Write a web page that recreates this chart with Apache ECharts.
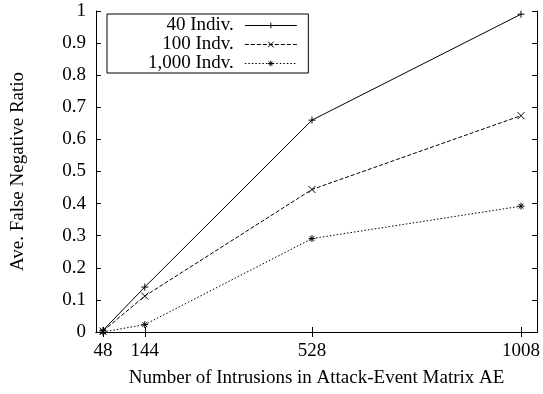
<!DOCTYPE html>
<html><head><meta charset="utf-8">
<script src="https://cdn.jsdelivr.net/npm/echarts@6/dist/echarts.min.js"></script>
<style>html,body{margin:0;padding:0;background:#fff}#c{width:543px;height:394px}</style>
</head><body><div id="c"></div>
<script>
const xTicks = [48, 144, 528, 1008];
const seriesNames = ['40 Indiv.', '100 Indv.', '1,000 Indv.'];
const s40 = [0.005, 0.14, 0.66, 0.99];
const s100 = [0.003, 0.112, 0.444, 0.674];
const s1000 = [0.0, 0.023, 0.291, 0.392];

const font = 'Liberation Serif';
const fs = 19;
const plus = 'path://M0,5L10,5M5,0L5,10';
const cross = 'path://M1,1L9,9M9,1L1,9';
const star = 'path://M0,5L10,5M5,0L5,10M1.5,1.5L8.5,8.5M8.5,1.5L1.5,8.5';

function mk(name, vals, type, sym) {
  return {
    name: name, type: 'line', data: xTicks.map((x, i) => [x, vals[i]]),
    symbol: sym, symbolSize: 7, color: '#000',
    lineStyle: {color: '#000', width: 1, type: type},
    itemStyle: {color: 'rgba(0,0,0,0)', borderColor: '#000', borderWidth: 1},
    emphasis: {disabled: true}, animation: false, z: 3
  };
}
const axisCommon = {
  axisLine: {show: true, lineStyle: {color: '#000', width: 1}},
  splitLine: {show: false}
};
const chart = echarts.init(document.getElementById('c'));
chart.setOption({
  animation: false,
  grid: {left: 96, right: 4, top: 11, bottom: 62},
  legend: {
    orient: 'vertical', left: 107, top: 14, align: 'right',
    data: seriesNames,
    backgroundColor: '#fff', borderColor: '#000', borderWidth: 1,
    padding: [2, 11, 0, 41], itemGap: 0, itemWidth: 52, itemHeight: 7,
    lineStyle: {width: 1},
    itemStyle: {color: 'rgba(0,0,0,0)', borderColor: '#000', borderWidth: 1},
    formatter: '{a|{name}}',
    textStyle: {fontFamily: font, fontSize: fs, color: '#000',
      rich: {a: {fontFamily: font, fontSize: fs, color: '#000', padding: [0, 6, 0, 0], lineHeight: 18.5}}},
    selectedMode: false
  },
  xAxis: [
    Object.assign({type: 'value', min: 32, max: 1045, position: 'bottom',
      axisTick: {show: true, inside: true, length: 5, customValues: xTicks, lineStyle: {color: '#000'}},
      axisLabel: {customValues: xTicks, formatter: v => String(v), fontFamily: font, fontSize: fs, color: '#000', margin: 10},
      name: 'Number of Intrusions in Attack-Event Matrix AE', nameLocation: 'middle', nameGap: 37,
      nameTextStyle: {fontFamily: font, fontSize: fs, color: '#000'}}, axisCommon),
    Object.assign({type: 'value', min: 32, max: 1045, position: 'top',
      axisTick: {show: true, inside: true, length: 5, customValues: xTicks, lineStyle: {color: '#000'}},
      axisLabel: {show: false}}, axisCommon)
  ],
  yAxis: [
    Object.assign({type: 'value', min: 0, max: 1, interval: 0.1, position: 'left',
      axisTick: {show: true, inside: true, length: 5, lineStyle: {color: '#000'}},
      axisLabel: {fontFamily: font, fontSize: fs, color: '#000', margin: 10},
      name: 'Ave. False Negative Ratio', nameLocation: 'middle', nameGap: 68,
      nameTextStyle: {fontFamily: font, fontSize: fs, color: '#000'}}, axisCommon),
    Object.assign({type: 'value', min: 0, max: 1, interval: 0.1, position: 'right',
      axisTick: {show: true, inside: true, length: 5, lineStyle: {color: '#000'}},
      axisLabel: {show: false}}, axisCommon)
  ],
  series: [
    mk(seriesNames[0], s40, 'solid', plus),
    mk(seriesNames[1], s100, [4, 2], cross),
    mk(seriesNames[2], s1000, [1.5, 2], star)
  ]
});
</script></body></html>
